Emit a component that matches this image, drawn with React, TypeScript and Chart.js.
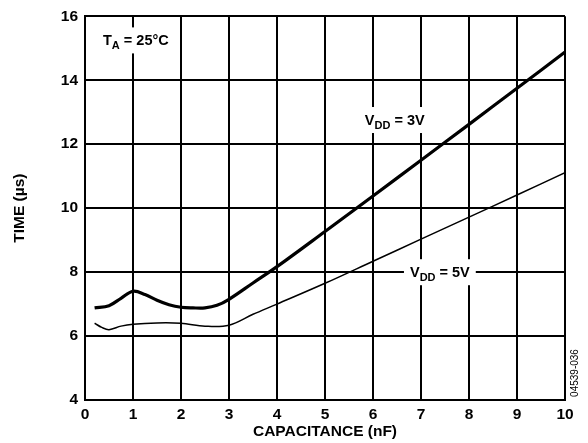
import React, { useEffect, useRef } from "react";
import { Chart, registerables } from "chart.js";

Chart.register(...registerables);

const capacitance3V = [0.2, 0.5, 0.75, 1, 1.25, 1.5, 1.75, 2, 2.25, 2.5, 2.75, 3, 3.5, 4, 5, 6, 7, 8, 9, 10];
const time3V = [6.88, 6.95, 7.18, 7.4, 7.3, 7.12, 6.98, 6.9, 6.88, 6.88, 6.96, 7.15, 7.66, 8.17, 9.27, 10.38, 11.5, 12.62, 13.75, 14.88];

const capacitance5V = [0.2, 0.35, 0.5, 0.75, 1, 1.5, 2, 2.5, 3, 3.5, 4, 5, 6, 7, 8, 9, 10];
const time5V = [6.4, 6.27, 6.2, 6.31, 6.37, 6.41, 6.4, 6.31, 6.34, 6.68, 7.0, 7.65, 8.34, 9.03, 9.72, 10.41, 11.11];

const xTickValues = [0, 1, 2, 3, 4, 5, 6, 7, 8, 9, 10];
const yTickValues = [4, 6, 8, 10, 12, 14, 16];

const labelX = [0.375, 5.83, 6.77];
const labelY = [15.09, 12.6, 7.84];
const labelMain = ["T", "V", "V"];
const labelSub = ["A", "DD", "DD"];
const labelRest = [" = 25°C", " = 3V", " = 5V"];

const FONT_FAMILY = "'Liberation Sans', Arial, Helvetica, sans-serif";

const labelPlugin = {
  id: "curveLabels",
  beforeDatasetsDraw(chart: any) {
    const { ctx } = chart;
    const xs = chart.scales.x;
    const ys = chart.scales.y;
    ctx.save();
    const big = `bold 14.5px ${FONT_FAMILY}`;
    const small = `bold 11px ${FONT_FAMILY}`;
    for (let i = 0; i < labelMain.length; i++) {
      const px = xs.getPixelForValue(labelX[i]);
      const py = ys.getPixelForValue(labelY[i]);
      ctx.font = big;
      const w1 = ctx.measureText(labelMain[i]).width;
      const w3 = ctx.measureText(labelRest[i]).width;
      ctx.font = small;
      const w2 = ctx.measureText(labelSub[i]).width;
      const total = w1 + w2 + w3;
      ctx.fillStyle = "#ffffff";
      ctx.fillRect(px - 6, py - 18, total + 12, 26);
      ctx.fillStyle = "#000000";
      ctx.textBaseline = "alphabetic";
      ctx.textAlign = "left";
      ctx.font = big;
      ctx.fillText(labelMain[i], px, py);
      ctx.font = small;
      ctx.fillText(labelSub[i], px + w1, py + 4);
      ctx.font = big;
      ctx.fillText(labelRest[i], px + w1 + w2, py);
    }
    ctx.restore();
  },
  afterDraw(chart: any) {
    const { ctx, chartArea } = chart;
    ctx.save();
    ctx.translate(chartArea.right + 10, chartArea.bottom - 27);
    ctx.rotate(-Math.PI / 2);
    ctx.font = `10px ${FONT_FAMILY}`;
    ctx.fillStyle = "#000000";
    ctx.textAlign = "center";
    ctx.textBaseline = "middle";
    ctx.fillText("04539-036", 0, 0);
    ctx.restore();
  },
};

export default function App() {
  const canvasRef = useRef<HTMLCanvasElement | null>(null);

  useEffect(() => {
    document.body.style.margin = "0";
    const canvas = canvasRef.current;
    if (!canvas) return;
    const chart = new Chart(canvas, {
      type: "line",
      data: {
        datasets: [
          {
            label: "VDD = 3V",
            data: capacitance3V.map((c, i) => ({ x: c, y: time3V[i] })),
            borderColor: "#000000",
            borderWidth: 3.2,
            pointRadius: 0,
            tension: 0.35,
            fill: false,
          },
          {
            label: "VDD = 5V",
            data: capacitance5V.map((c, i) => ({ x: c, y: time5V[i] })),
            borderColor: "#000000",
            borderWidth: 1.5,
            pointRadius: 0,
            tension: 0.35,
            fill: false,
          },
        ],
      },
      options: {
        animation: false,
        responsive: false,
        devicePixelRatio: 1,
        layout: { padding: { left: 0, top: 16, right: 23, bottom: 0 } },
        plugins: {
          legend: { display: false },
          tooltip: { enabled: false },
        },
        scales: {
          x: {
            type: "linear",
            min: 0,
            max: 10,
            afterBuildTicks: (scale: any) => {
              scale.ticks = xTickValues.map((v) => ({ value: v }));
            },
            afterFit: (scale: any) => {
              scale.height = 43;
            },
            grid: { color: "#000000", lineWidth: 2, drawTicks: false },
            border: { display: true, color: "#000000", width: 2 },
            ticks: {
              padding: 5,
              color: "#000000",
              font: { family: FONT_FAMILY, size: 15.5, weight: "bold" },
              maxRotation: 0,
            },
            title: {
              display: true,
              text: "CAPACITANCE (nF)",
              color: "#000000",
              font: { family: FONT_FAMILY, size: 15.5, weight: "bold" },
              padding: { top: 0, bottom: 2 },
            },
          },
          y: {
            type: "linear",
            min: 4,
            max: 16,
            afterBuildTicks: (scale: any) => {
              scale.ticks = yTickValues.map((v) => ({ value: v }));
            },
            afterFit: (scale: any) => {
              scale.width = 85;
            },
            grid: { color: "#000000", lineWidth: 2, drawTicks: false },
            border: { display: true, color: "#000000", width: 2 },
            ticks: {
              padding: 7,
              color: "#000000",
              font: { family: FONT_FAMILY, size: 15.5, weight: "bold" },
            },
            title: {
              display: true,
              text: "TIME (µs)",
              color: "#000000",
              font: { family: FONT_FAMILY, size: 15.5, weight: "bold" },
              padding: { top: 10, bottom: 0 },
            },
          },
        },
      },
      plugins: [labelPlugin],
    } as any);
    return () => chart.destroy();
  }, []);

  return (
    <div style={{ position: "absolute", left: 0, top: 0, width: 588, height: 443, background: "#ffffff" }}>
      <canvas ref={canvasRef} width={588} height={443} style={{ width: 588, height: 443, display: "block" }} />
    </div>
  );
}
